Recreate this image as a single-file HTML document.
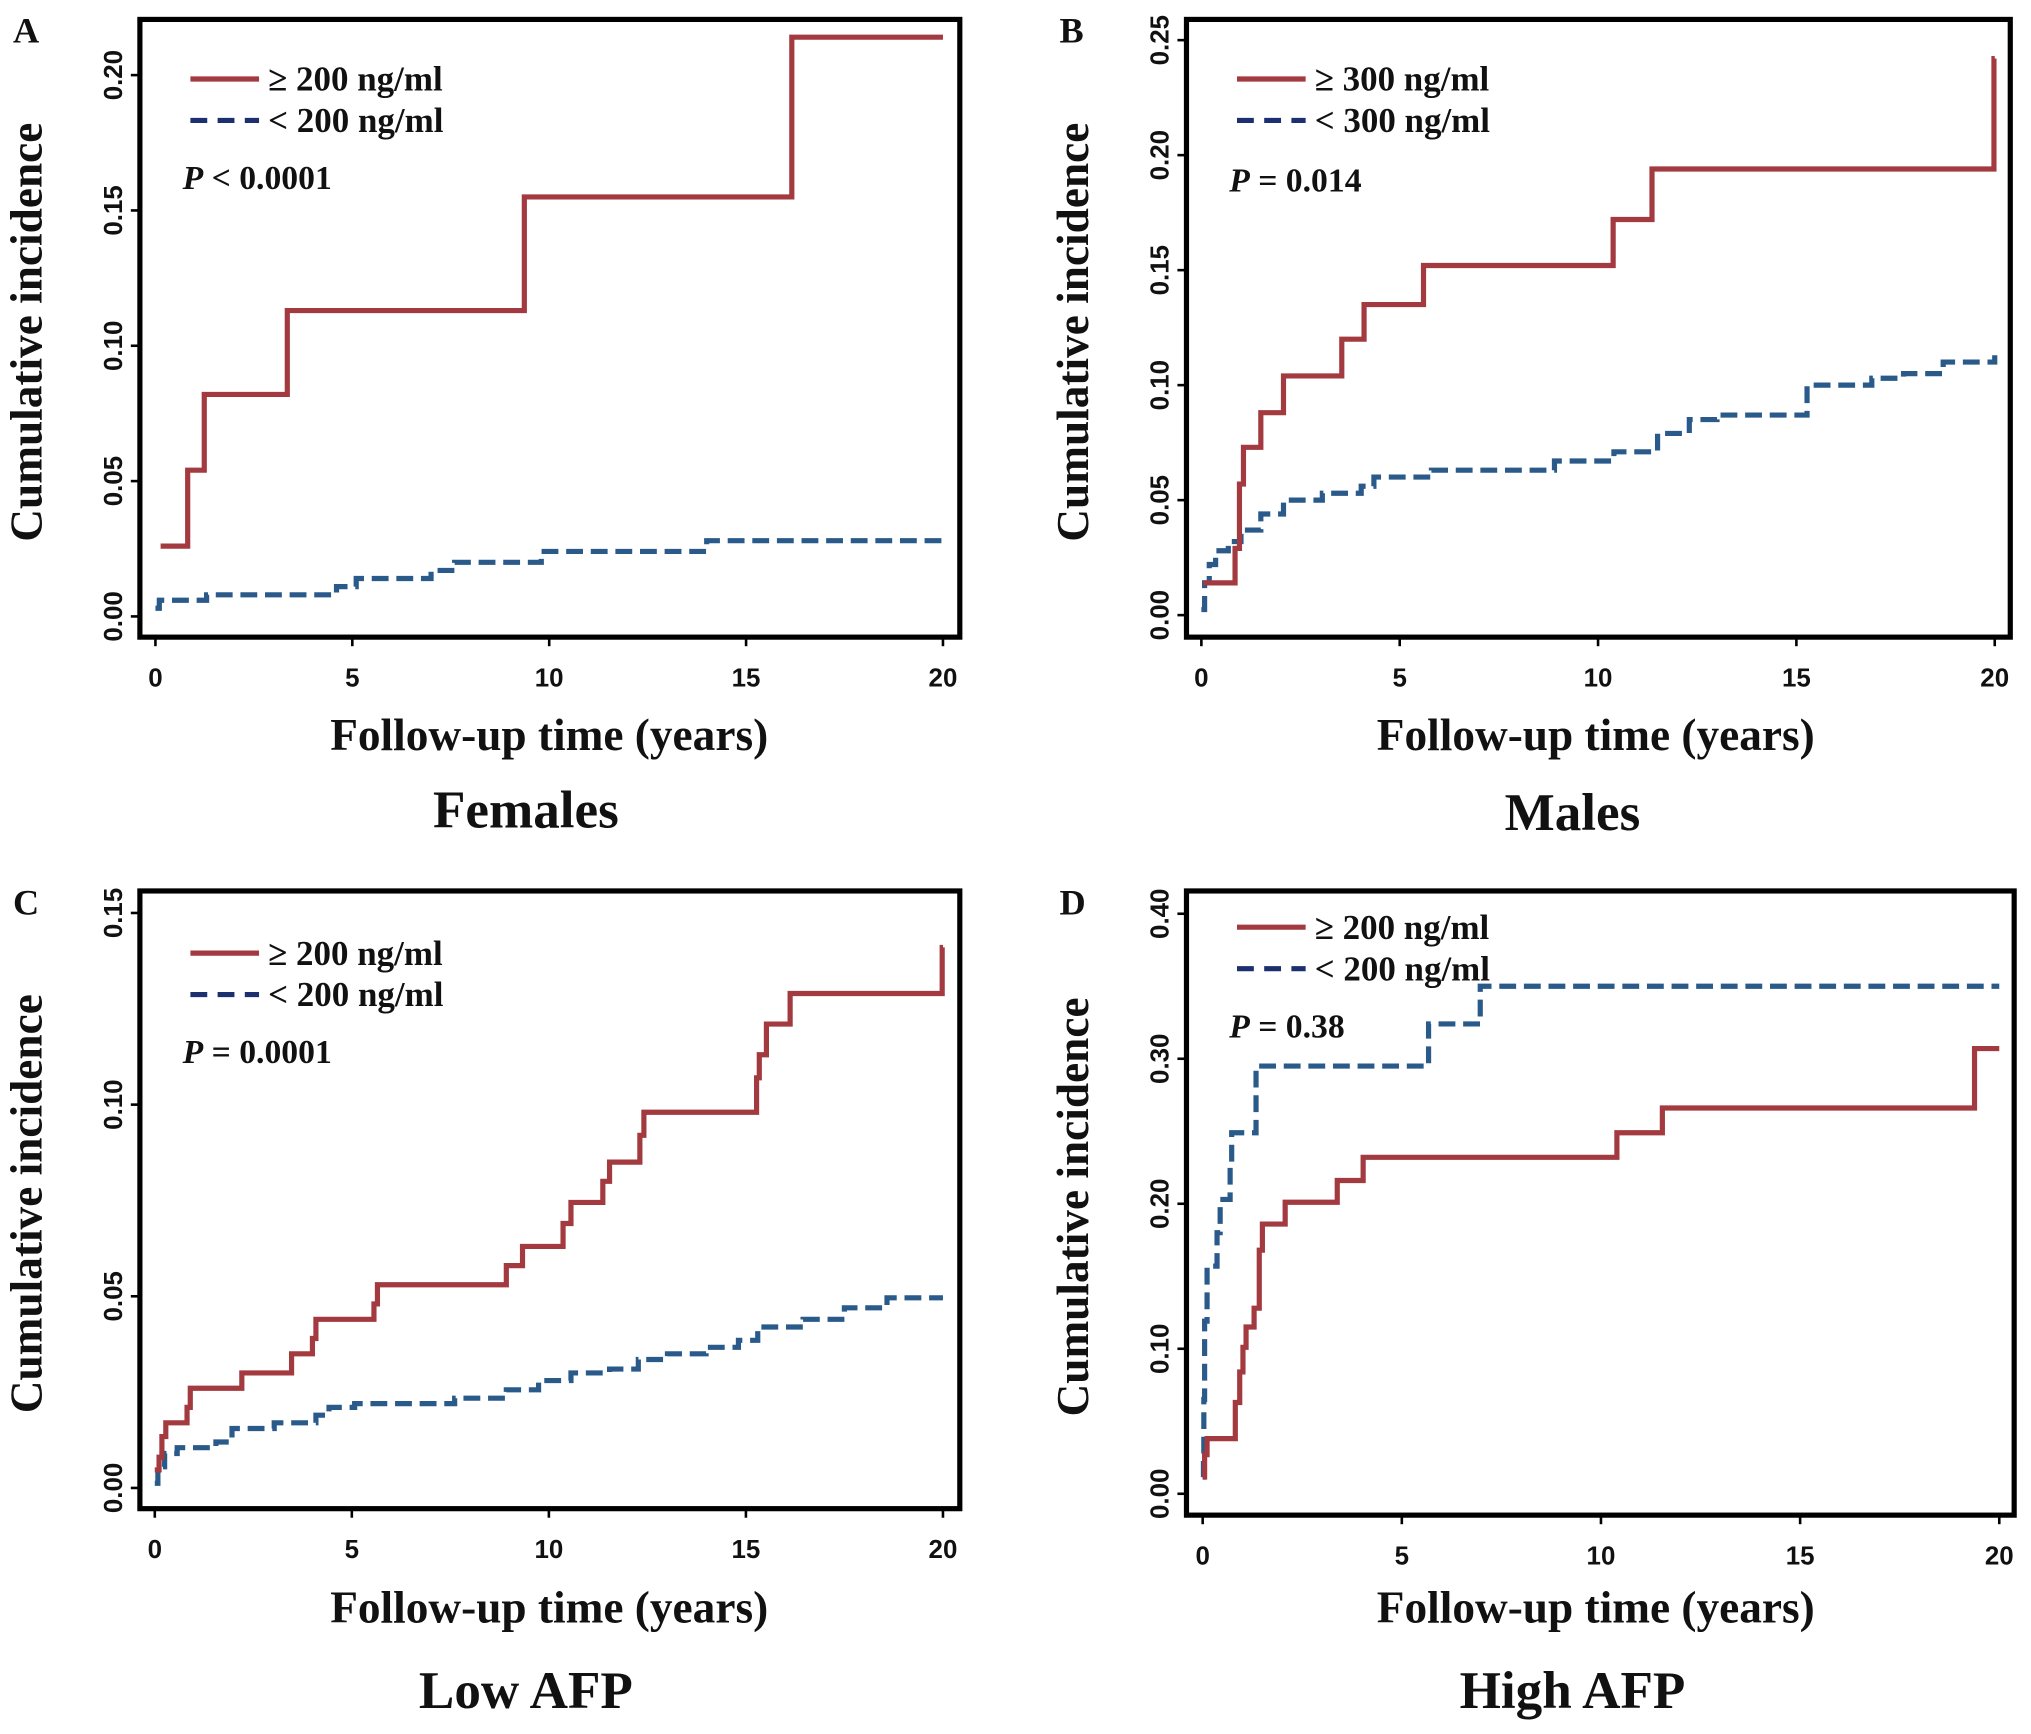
<!DOCTYPE html>
<html><head><meta charset="utf-8"><style>
html,body{margin:0;padding:0;background:#fff;}
svg{display:block;}
.tick{font-family:"Liberation Sans",sans-serif;font-weight:bold;font-size:20px;fill:#111;}
.ser{font-family:"Liberation Serif",serif;font-weight:bold;fill:#111;}
</style></head><body>
<svg id="fig" width="2031" height="1734" viewBox="0 0 1568 1339" preserveAspectRatio="none" xmlns="http://www.w3.org/2000/svg"></svg>
<script>
// Panel A (Females)
const aRedT=[0.13,0.82,1.24,3.35,9.37,16.16,20];
const aRedV=[0.026,0.054,0.082,0.113,0.155,0.214,0.214];
const aBlueT=[0,0.1,1.3,4.6,5.1,7.0,7.6,9.8,14.0,20];
const aBlueV=[0.003,0.006,0.008,0.011,0.014,0.017,0.020,0.024,0.028,0.028];
const aYTicks=["0.00","0.05","0.10","0.15","0.20"];
// Panel B (Males)
const bRedT=[0.05,0.85,0.96,1.06,1.5,2.07,3.54,4.1,5.6,10.38,11.36,19.98,20];
const bRedV=[0.014,0.029,0.057,0.073,0.088,0.104,0.120,0.135,0.152,0.172,0.194,0.242,0.242];
const bBlueT=[0,0.08,0.2,0.36,0.68,1.0,1.5,2.07,3.05,4.03,4.35,5.8,8.9,10.4,11.5,12.3,13.0,15.27,16.9,17.7,18.7,20];
const bBlueV=[0.0024,0.014,0.022,0.028,0.032,0.037,0.044,0.050,0.053,0.056,0.060,0.063,0.067,0.071,0.079,0.085,0.087,0.100,0.103,0.105,0.110,0.113];
const bYTicks=["0.00","0.05","0.10","0.15","0.20","0.25"];
// Panel C (Low AFP)
const cRedT=[0,0.11,0.18,0.28,0.82,0.9,2.21,3.47,4.0,4.09,5.56,5.65,8.92,9.33,10.36,10.56,11.37,11.54,12.31,12.41,15.27,15.34,15.52,16.12,19.98,20];
const cRedV=[0.0047,0.008,0.0134,0.017,0.021,0.026,0.030,0.035,0.039,0.044,0.048,0.053,0.058,0.063,0.069,0.0745,0.080,0.085,0.092,0.098,0.107,0.113,0.121,0.129,0.141,0.141];
const cBlueT=[0,0.08,0.25,0.57,1.55,1.96,3.03,4.09,4.42,5.07,7.61,8.92,9.74,10.56,11.54,12.27,13.01,13.99,14.81,15.3,16.45,17.5,18.58,20];
const cBlueV=[0.0012,0.0055,0.009,0.0105,0.012,0.0155,0.017,0.019,0.021,0.022,0.0234,0.0256,0.028,0.030,0.031,0.0335,0.035,0.0367,0.0385,0.042,0.044,0.047,0.0496,0.0496];
const cYTicks=["0.00","0.05","0.10","0.15"];
// Panel D (High AFP)
const dRedT=[0,0.05,0.11,0.82,0.93,1.01,1.09,1.29,1.42,1.5,2.07,3.38,4.03,10.4,11.54,19.38,20];
const dRedV=[0.0115,0.027,0.038,0.063,0.084,0.101,0.115,0.128,0.168,0.186,0.201,0.216,0.232,0.249,0.266,0.307,0.307];
const dBlueT=[0,0.02,0.03,0.05,0.11,0.36,0.44,0.69,0.73,1.34,5.67,6.97,20];
const dBlueV=[0.0115,0.027,0.065,0.119,0.157,0.180,0.203,0.226,0.249,0.295,0.324,0.350,0.350];
const dYTicks=["0.00","0.10","0.20","0.30","0.40"];
const xTicks=[0,5,10,15,20];

const NS="http://www.w3.org/2000/svg";
const svg=document.getElementById('fig');
function mk(tag,attrs,parent){const e=document.createElementNS(NS,tag);for(const k in attrs)e.setAttribute(k,attrs[k]);(parent||svg).appendChild(e);return e;}

const panels=[
 {id:'a',letter:'A',title:'Females',box:[108,15,741,492],x0:120,x20:728,y0:476,yTop:58,yTopV:0.20,yt:aYTicks,red:[aRedT,aRedV],blue:[aBlueT,aBlueV],leg:['≥ 200 ng/ml','< 200 ng/ml'],legY:61,lx:147,p:'< 0.0001',py:146,tx:424,ty:579,sy:639},
 {id:'b',letter:'B',title:'Males',box:[916,15,1552,492],x0:927.5,x20:1540,y0:475,yTop:31,yTopV:0.25,yt:bYTicks,red:[bRedT,bRedV],blue:[bBlueT,bBlueV],leg:['≥ 300  ng/ml','< 300  ng/ml'],legY:61,lx:955,p:'= 0.014',py:148,tx:1232,ty:579,sy:641},
 {id:'c',letter:'C',title:'Low AFP',box:[108,688,741,1165],x0:119.5,x20:728,y0:1149,yTop:705,yTopV:0.15,yt:cYTicks,red:[cRedT,cRedV],blue:[cBlueT,cBlueV],leg:['≥ 200 ng/ml','< 200 ng/ml'],legY:736,lx:147,p:'= 0.0001',py:821,tx:424,ty:1253,sy:1319},
 {id:'d',letter:'D',title:'High AFP',box:[916,688,1555,1170],x0:928.5,x20:1543.5,y0:1153.5,yTop:705.6,yTopV:0.40,yt:dYTicks,red:[dRedT,dRedV],blue:[dBlueT,dBlueV],leg:['≥ 200 ng/ml','< 200 ng/ml'],legY:716,lx:955,p:'= 0.38',py:801,tx:1232,ty:1253,sy:1319}
];

panels.forEach(P=>{
 const g=mk('g',{});
 
 
 const xs=t=>P.x0+(P.x20-P.x0)*t/20;
 const ys=v=>P.y0-(P.y0-P.yTop)*v/P.yTopV;
 const [bx1,by1,bx2,by2]=P.box;
 function step(T,V,color,dash,name){
  let d='M'+xs(T[0]).toFixed(1)+','+ys(V[0]).toFixed(1);
  for(let i=1;i<T.length;i++){d+=' H'+xs(T[i]).toFixed(1)+' V'+ys(V[i]).toFixed(1);}
  const p=mk('path',{d:d,fill:'none',stroke:color,'stroke-width':4,'stroke-linejoin':'miter'},g);
  if(dash)p.setAttribute('stroke-dasharray',dash);
  
  
 }
 step(P.blue[0],P.blue[1],'#2a5a8a','13 6','series-below-threshold');
 step(P.red[0],P.red[1],'#a33a40',null,'series-above-threshold');
 const r=mk('rect',{x:bx1,y:by1,width:bx2-bx1,height:by2-by1,fill:'none',stroke:'#000','stroke-width':4},g);
 
 
 P.yt.forEach(lbl=>{
  const y=ys(parseFloat(lbl));
  mk('line',{x1:bx1-7,x2:bx1,y1:y,y2:y,stroke:'#000','stroke-width':2},g);
  const t=mk('text',{class:'tick',x:0,y:0,'text-anchor':'middle',transform:`translate(${bx1-14},${y}) rotate(-90)`},g);
  t.textContent=lbl;
  
  
 });
 xTicks.forEach(v=>{
  const x=xs(v);
  mk('line',{x1:x,x2:x,y1:by2,y2:by2+7,stroke:'#000','stroke-width':2},g);
  const t=mk('text',{class:'tick',x:x,y:by2+38,'text-anchor':'middle'},g);
  t.textContent=v;
  
  
 });
 const yl=mk('text',{class:'ser','font-size':35,'text-anchor':'middle',transform:`translate(${bx1-76},${(by1+by2)/2+3}) rotate(-90)`},g);
 yl.textContent='Cumulative incidence';
 
 
 const xl=mk('text',{class:'ser','font-size':35,'text-anchor':'middle',x:P.tx,y:P.ty},g);
 xl.textContent='Follow-up time (years)';
 
 
 const st=mk('text',{class:'ser','font-size':41,'text-anchor':'middle',x:P.tx-18,y:P.sy},g);
 st.textContent=P.title;
 
 
 const lt=mk('text',{class:'ser','font-size':28,x:bx1-98,y:by1+18},g);
 lt.textContent=P.letter;
 
 
 const l1=mk('line',{x1:P.lx,x2:P.lx+53,y1:P.legY,y2:P.legY,stroke:'#a33a40','stroke-width':4},g);
 
 
 const l2=mk('line',{x1:P.lx,x2:P.lx+53,y1:P.legY+32,y2:P.legY+32,stroke:'#1c2f6e','stroke-width':4,'stroke-dasharray':'13 8'},g);
 
 
 [0,1].forEach(i=>{
  const t=mk('text',{class:'ser','font-size':27,x:P.lx+60,y:P.legY+9+32*i},g);
  t.textContent=P.leg[i];
  
  
 });
 const pt=mk('text',{class:'ser','font-size':26,x:P.lx-6,y:P.py},g);
 const pi=mk('tspan',{'font-style':'italic'},pt);pi.textContent='P';
 const pr=mk('tspan',{},pt);pr.textContent=' '+P.p;
 
 
});
</script>
</body></html>
